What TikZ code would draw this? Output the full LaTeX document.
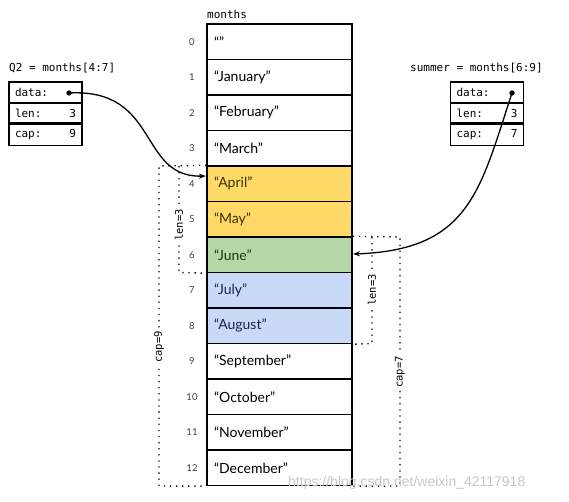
\documentclass[tikz,border=0pt]{standalone}
\usepackage{fontspec}
\setmainfont{Lato}
\newfontfamily\monof{DejaVu Sans Mono}
\newfontfamily\wmf{Liberation Sans}
\usetikzlibrary{arrows.meta}
\definecolor{yfill}{HTML}{FFD966}
\definecolor{gfill}{HTML}{B6D7A8}
\definecolor{bfill}{HTML}{C9DAF8}
\definecolor{ytext}{HTML}{3D2F00}
\definecolor{gtext}{HTML}{173D0C}
\definecolor{btext}{HTML}{14254F}
\tikzset{
  cell/.style={draw, line width=1.4pt, minimum width=145pt, minimum height=35.5pt,
    text width=131pt, inner sep=7pt, align=left, font=\fontsize{14}{16}\selectfont},
  idx/.style={font=\fontsize{9.5}{10}\selectfont, text=black!75},
  slot/.style={draw, line width=1.3pt, minimum width=73pt, minimum height=20.7pt,
    text width=61pt, inner sep=6pt, align=left, font=\monof\fontsize{11}{12}\selectfont},
  mlabel/.style={font=\monof\fontsize{11}{12}\selectfont, inner sep=0pt},
  dots/.style={line width=1.4pt, dash pattern=on 1.3pt off 4.8pt},
  dimlabel/.style={font=\monof\fontsize{10.5}{11}\selectfont, rotate=90, fill=white, inner sep=2pt},
  ptr/.style={line width=1.3pt, -{Stealth[length=7pt,width=5pt]}}
}
\begin{document}
\begin{tikzpicture}[x=1pt,y=-1pt]
\useasboundingbox (0,0) rectangle (569,502);
\fill[white] (0,0) rectangle (569,502);
% array
\node[mlabel, anchor=west] (mname) at (207,14) {months};
\foreach \i/\t/\f/\c in {0/{“”}/white/black,1/{“January”}/white/black,2/{“February”}/white/black,
  3/{“March”}/white/black,4/{“April”}/yfill/ytext,5/{“May”}/yfill/ytext,6/{“June”}/gfill/gtext,
  7/{“July”}/bfill/btext,8/{“August”}/bfill/btext,9/{“September”}/white/black,
  10/{“October”}/white/black,11/{“November”}/white/black,12/{“December”}/white/black}{
  \node[cell, fill=\f, text=\c] (c\i) at (279.5,{24+35.5*\i+17.75}) {\t};
  \node[idx] (i\i) at (192,{24+35.5*\i+17.75}) {\i};
}
% Q2 slice header
\node[mlabel, anchor=west] (q2name) at (9,68) {Q2 = months[4:7]};
\node[slot] (q2data) at (45.5,92.4) {data:};
\node[slot] (q2len) at (45.5,113.6) {len:\hfill 3};
\node[slot] (q2cap) at (45.5,134.3) {cap:\hfill 9};
\coordinate (q2dot) at (69,93);
\fill (q2dot) circle (2.7pt);
\coordinate (q2tip) at (206,176);
\draw[ptr] (q2dot) .. controls (160,88) and (138,178) .. (q2tip);
% summer slice header
\node[mlabel, anchor=west] (sname) at (410,68) {summer = months[6:9]};
\node[slot] (sdata) at (487,92.4) {data:};
\node[slot] (slen) at (487,113.6) {len:\hfill 3};
\node[slot] (scap) at (487,134.3) {cap:\hfill 7};
\coordinate (sdot) at (512,93);
\fill (sdot) circle (2.7pt);
\coordinate (stip) at (353,254);
\draw[ptr] (sdot) .. controls (480,190) and (470,250) .. (stip);
% Q2 dotted brackets
\coordinate (qa) at (159,166);
\coordinate (qb) at (159,486);
\coordinate (qc) at (179,166);
\coordinate (qd) at (179,272.5);
\draw[dots] (c4.north west) -- (qa) -- (qb) -- (c12.south west);
\draw[dots] (qc) -- (qd) -- (c6.south west);
\node[dimlabel] (q2lenlab) at (179,225) {len=3};
\node[dimlabel] (q2caplab) at (159,347) {cap=9};
% summer dotted brackets
\coordinate (sa) at (400,237);
\coordinate (sb) at (400,486);
\coordinate (sc) at (372,237);
\coordinate (sd) at (372,343.5);
\draw[dots] (c6.north east) -- (sa) -- (sb) -- (c12.south east);
\draw[dots] (sc) -- (sd) -- (c8.south east);
\node[dimlabel] (slenlab) at (372,290) {len=3};
\node[dimlabel] (scaplab) at (400,372) {cap=7};
% watermark
\node[font=\wmf\fontsize{14}{16}\selectfont, text=black!22, anchor=west, inner sep=0pt] (wm) at (288,483) {https://blog.csdn.net/weixin\_42117918};
\end{tikzpicture}
\end{document}
